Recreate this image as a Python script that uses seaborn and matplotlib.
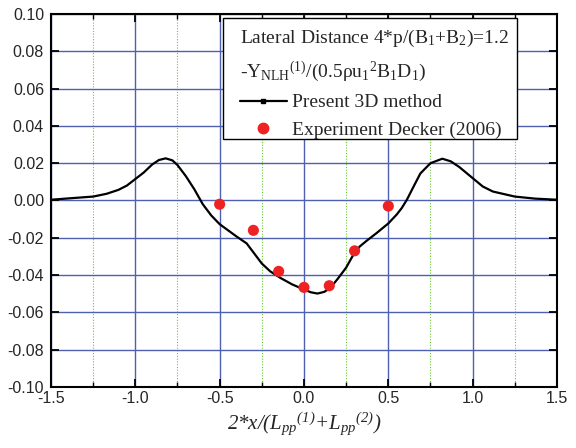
import matplotlib
matplotlib.use("Agg")
import matplotlib.pyplot as plt
from matplotlib.lines import Line2D
from matplotlib.patches import Rectangle
from matplotlib.ticker import MultipleLocator, FormatStrFormatter
import seaborn as sns
import pandas as pd

# Computed lateral force distribution (present 3D method)
curve_x = [-1.50, -1.37, -1.25, -1.17, -1.10, -1.05, -1.00, -0.95, -0.90, -0.86,
           -0.82, -0.78, -0.75, -0.70, -0.65, -0.60, -0.55, -0.50, -0.45, -0.40,
           -0.34, -0.25, -0.20, -0.14, -0.07, 0.00, 0.04, 0.08, 0.12, 0.155,
           0.20, 0.25, 0.29, 0.33, 0.37, 0.43, 0.50, 0.55, 0.58, 0.61, 0.65,
           0.69, 0.75, 0.82, 0.87, 0.92, 1.00, 1.06, 1.12, 1.25, 1.37, 1.50]
curve_y = [0.0004, 0.0013, 0.0021, 0.0036, 0.0057, 0.0080, 0.0115, 0.0150, 0.0193, 0.0217,
           0.0226, 0.0215, 0.0190, 0.0130, 0.0060, -0.0020, -0.0080, -0.0127, -0.0160, -0.0193,
           -0.0230, -0.0338, -0.0380, -0.0415, -0.0450, -0.0477, -0.0492, -0.0499, -0.0490, -0.0470,
           -0.0420, -0.0360, -0.0295, -0.0247, -0.0217, -0.0175, -0.0123, -0.0075, -0.0040, 0.0004, 0.0075,
           0.0145, 0.0200, 0.0224, 0.0210, 0.0180, 0.0120, 0.0075, 0.0048, 0.0021, 0.0010, 0.0004]

# Measured values (Decker 2006)
exp_x = [-0.50, -0.30, -0.15, 0.00, 0.15, 0.30, 0.50]
exp_y = [-0.002, -0.016, -0.038, -0.0466, -0.0457, -0.027, -0.003]

x_ticks = [-1.5, -1.0, -0.5, 0.0, 0.5, 1.0, 1.5]
y_ticks = [-0.10, -0.08, -0.06, -0.04, -0.02, 0.00, 0.02, 0.04, 0.06, 0.08, 0.10]

sns.set_style("white")
plt.rcParams["font.family"] = ["Liberation Sans", "DejaVu Sans"]
plt.rcParams["axes.unicode_minus"] = False
plt.rcParams["mathtext.default"] = "regular"

curve_df = pd.DataFrame({"x": curve_x, "y": curve_y})
exp_df = pd.DataFrame({"x": exp_x, "y": exp_y})

fig = plt.figure(figsize=(5.76, 4.48), dpi=100)
ax = fig.add_axes([0.0885, 0.1362, 0.967 - 0.0885, 0.96875 - 0.1362])

sns.lineplot(data=curve_df, x="x", y="y", ax=ax, color="black", linewidth=1.6,
             sort=False, zorder=3)
sns.scatterplot(data=exp_df, x="x", y="y", ax=ax, color="#ee2222", s=64,
                edgecolor="none", zorder=4)

ax.set_xlim(-1.5, 1.5)
ax.set_ylim(-0.10, 0.10)
ax.set_xticks(x_ticks)
ax.set_yticks(y_ticks)
ax.xaxis.set_minor_locator(MultipleLocator(0.25))
ax.xaxis.set_major_formatter(FormatStrFormatter("%.1f"))
ax.yaxis.set_major_formatter(FormatStrFormatter("%.2f"))

ax.grid(True, which="major", axis="both", color="#5060b0", linewidth=1.0, zorder=0)
ax.grid(True, which="minor", axis="x", color="#66cc33", linewidth=0.8,
        linestyle=(0, (1, 1.5)), zorder=0)
ax.set_axisbelow(True)

for s in ax.spines.values():
    s.set_color("black")
    s.set_linewidth(1.5)
    s.set_visible(True)

ax.tick_params(which="major", direction="in", length=6, width=1.3, color="black",
               top=True, right=True, bottom=True, left=True, labelsize=11.5)
ax.tick_params(which="minor", direction="in", length=3.5, width=1.0, color="black",
               top=True, bottom=True)
ax.tick_params(axis="x", which="major", pad=3)
ax.tick_params(axis="y", which="major", pad=5)

ax.set_ylabel("")
ax.set_xlabel(r"2*x/(L$_{pp}$$^{(1)}$+L$_{pp}$$^{(2)}$)", fontsize=15,
              family="Liberation Serif", style="italic")
ax.xaxis.set_label_coords(0.5, -0.062)

# Legend frame box
ax.add_patch(Rectangle((0.3393, 0.6641), 0.5811, 0.3244, transform=ax.transAxes,
                       facecolor="white", edgecolor="black", linewidth=1.0,
                       zorder=5))

handles = [
    Line2D([0], [0], color="black", linewidth=1.6, marker="s", markersize=3),
    Line2D([0], [0], color="#ee2222", linestyle="none", marker="o", markersize=7.5),
]
labels = ["Present 3D method", "Experiment Decker (2006)"]
title = ("Lateral Distance 4*p/(B$_1$+B$_2$)=1.2\n"
         "-Y$_{NLH}$$^{(1)}$/(0.5ρu$_1$$^2$B$_1$D$_1$)")
leg = ax.legend(handles, labels, title=title, loc="upper left",
                bbox_to_anchor=(0.3735, 0.962), frameon=False,
                borderpad=0.0, borderaxespad=0.0, labelspacing=0.5,
                handlelength=2.4, handletextpad=0.3, alignment="left",
                prop={"family": "Liberation Serif", "size": 14},
                title_fontproperties={"family": "Liberation Serif", "size": 14})
leg.get_title().set_linespacing(1.6)
leg.set_zorder(6)

fig.savefig("out.png", dpi=100)
